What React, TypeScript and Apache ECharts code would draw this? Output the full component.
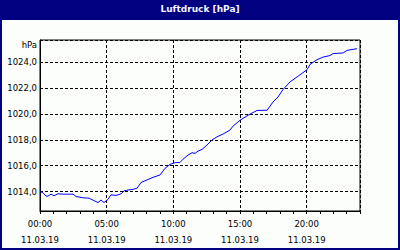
import React, { useEffect, useRef } from "react";
import * as echarts from "echarts";

const hours = [0, 0.23, 0.45, 0.6, 0.83, 1.05, 1.35, 1.73, 2.48, 2.7, 3.23, 3.68, 4.05, 4.35, 4.58, 4.8, 5.1, 5.33, 5.7, 6.08, 6.3, 6.6, 6.98, 7.28, 7.58, 8.03, 8.48, 9.0, 9.38, 9.75, 10.13, 10.5, 10.73, 11.1, 11.4, 11.63, 11.85, 12.15, 12.53, 12.9, 13.28, 13.73, 14.25, 14.48, 15.0, 15.23, 15.75, 16.28, 17.03, 17.48, 17.85, 18.23, 18.75, 19.28, 20.03, 20.25, 20.78, 21.23, 21.75, 21.98, 22.73, 23.03, 23.78];
const pressure = [1014.0, 1013.9, 1013.65, 1013.65, 1013.8, 1013.68, 1013.83, 1013.8, 1013.8, 1013.62, 1013.52, 1013.49, 1013.3, 1013.15, 1013.35, 1013.15, 1013.4, 1013.75, 1013.7, 1013.83, 1014.05, 1014.12, 1014.17, 1014.26, 1014.7, 1014.9, 1015.1, 1015.28, 1015.8, 1016.1, 1016.23, 1016.25, 1016.5, 1016.82, 1017.0, 1016.95, 1017.12, 1017.25, 1017.6, 1017.98, 1018.23, 1018.44, 1018.75, 1019.05, 1019.5, 1019.65, 1019.98, 1020.26, 1020.28, 1020.92, 1021.3, 1021.88, 1022.46, 1022.85, 1023.41, 1023.82, 1024.18, 1024.38, 1024.5, 1024.65, 1024.7, 1024.9, 1025.03];
const dateLabel = "11.03.19";
const titleText = "Luftdruck [hPa]";
const unitText = "hPa";

export default function App() {
  const ref = useRef<HTMLDivElement>(null);
  useEffect(() => {
    if (!ref.current) return;
    const chart = echarts.init(ref.current, null, { renderer: "svg" });
    const font = "DejaVu Sans";
    chart.setOption({
      animation: false,
      backgroundColor: "#fcfefc",
      textStyle: { fontFamily: font },
      grid: { left: 40, right: 40, top: 40, bottom: 39, show: true, borderColor: "#000", borderWidth: 1 },
      xAxis: [
        {
          type: "value",
          min: 0,
          max: 24,
          interval: 5,
          axisLine: { show: true, lineStyle: { color: "#000", width: 1 } },
          axisTick: { show: false },
          splitLine: { show: true, lineStyle: { color: "#000", type: [3, 2], width: 1 } },
          axisLabel: {
            showMaxLabel: false,
            color: "#000",
            fontSize: 8.5,
            fontFamily: font,
            lineHeight: 16,
            margin: 5,
            formatter: (v: number) => `${String(v).padStart(2, "0")}:00\n${dateLabel}`,
          },
        },
        {
          type: "value",
          min: 0,
          max: 24,
          interval: 1,
          position: "bottom",
          axisLine: { show: false },
          axisTick: { show: true, length: 3, lineStyle: { color: "#000" } },
          axisLabel: { show: false },
          splitLine: { show: false },
        },
      ],
      yAxis: {
        type: "value",
        min: 1012.5,
        max: 1025.7,
        minInterval: 2,
        maxInterval: 2,
        splitNumber: 6,
        axisLine: { show: true, lineStyle: { color: "#000" } },
        axisTick: { show: false },
        splitLine: { show: true, lineStyle: { color: "#000", type: [3, 2], width: 1 } },
        axisLabel: {
          showMinLabel: false,
          showMaxLabel: false,
          color: "#000",
          fontSize: 8.5,
          fontFamily: font,
          margin: 3,
          formatter: (v: number) => v.toFixed(1).replace(".", ","),
        },
      },
      graphic: [
        { type: "rect", shape: { x: 0, y: 0, width: 400, height: 20 }, style: { fill: "#000080" }, z: 10 },
        { type: "rect", shape: { x: 1, y: 1, width: 398, height: 248 }, style: { fill: "none", stroke: "#000080", lineWidth: 2 }, z: 10 },
        {
          type: "text",
          x: 200,
          y: 9,
          z: 11,
          style: { text: titleText, fill: "#f4f4ff", font: `bold 9px ${font}`, align: "center", verticalAlign: "middle" },
        },
        {
          type: "text",
          x: 37,
          y: 45,
          z: 11,
          style: { text: unitText, fill: "#000", font: `8.5px ${font}`, align: "right", verticalAlign: "middle" },
        },
      ],
      series: [
        {
          type: "line",
          xAxisIndex: 0,
          data: hours.map((h, i) => [h, pressure[i]]),
          showSymbol: false,
          lineStyle: { color: "#0000ff", width: 1 },
        },
      ],
    });
    return () => chart.dispose();
  }, []);
  return <div ref={ref} style={{ position: "absolute", left: 0, top: 0, width: 400, height: 250 }} />;
}
